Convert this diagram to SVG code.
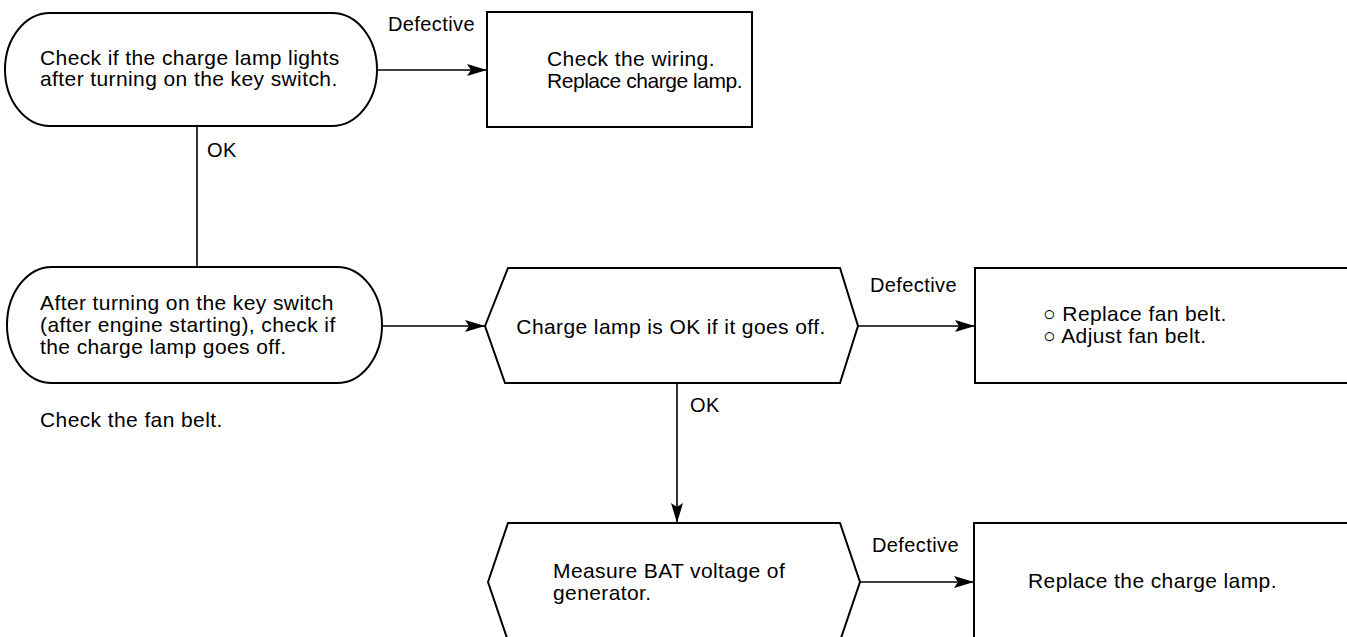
<svg xmlns="http://www.w3.org/2000/svg" width="1347" height="637" viewBox="0 0 1347 637">
<style>
.shape{fill:#fff;stroke:#000;stroke-width:2}
.conn{fill:none;stroke:#000;stroke-width:1.6}
text{font-family:"Liberation Sans",Arial,Helvetica,sans-serif;font-size:21px;letter-spacing:0.4px;fill:#000}
.lbl{font-size:20px}
.bul{font-size:21px;letter-spacing:0}
</style>
<defs>
<marker id="arr" viewBox="0 0 20 12" refX="20" refY="6" markerWidth="20" markerHeight="12" markerUnits="userSpaceOnUse" orient="auto">
<path d="M0,0 L20,6 L0,12 L4,6 Z" fill="#000"/>
</marker>
</defs>
<rect width="1347" height="637" fill="#fff"/>
<g id="connectors">
<line class="conn" x1="377" y1="70" x2="487" y2="70" marker-end="url(#arr)"/>
<line class="conn" x1="197" y1="126" x2="197" y2="268"/>
<line class="conn" x1="382" y1="326" x2="485" y2="326" marker-end="url(#arr)"/>
<line class="conn" x1="858" y1="326" x2="975" y2="326" marker-end="url(#arr)"/>
<line class="conn" x1="677" y1="383" x2="677" y2="523" marker-end="url(#arr)"/>
<line class="conn" x1="860" y1="582" x2="974" y2="582" marker-end="url(#arr)"/>
<text class="lbl" x="388" y="31">Defective</text>
<text class="lbl" x="207" y="157">OK</text>
<text class="lbl" x="870" y="292">Defective</text>
<text class="lbl" x="690" y="412">OK</text>
<text class="lbl" x="872" y="552">Defective</text>
</g>
<g id="n1">
<path class="shape" d="M50,13 L332,13 A45,56.5 0 0 1 332,126 L50,126 A45,56.5 0 0 1 50,13 Z"/>
<text x="40" y="65">Check if the charge lamp lights</text>
<text x="40" y="86">after turning on the key switch.</text>
</g>
<g id="n2">
<rect class="shape" x="487" y="12" width="265" height="115"/>
<text x="547" y="66">Check the wiring.</text>
<text x="547" y="88" textLength="196" lengthAdjust="spacing">Replace charge lamp.</text>
</g>
<g id="n3">
<path class="shape" d="M52,267 L337,267 A45,58 0 0 1 337,383 L52,383 A45,58 0 0 1 52,267 Z"/>
<text x="40" y="310">After turning on the key switch</text>
<text x="40" y="332">(after engine starting), check if</text>
<text x="40" y="354">the charge lamp goes off.</text>
</g>
<g id="n4">
<text x="40" y="427">Check the fan belt.</text>
</g>
<g id="n5">
<path class="shape" d="M485,326 L508,268 L840,268 L858,326 L840,383 L505,383 Z"/>
<text x="671" y="334" text-anchor="middle">Charge lamp is OK if it goes off.</text>
</g>
<g id="n6">
<rect class="shape" x="975" y="268" width="390" height="115"/>
<text x="1043" y="321">○ Replace fan belt.</text>
<text x="1043" y="343">○ Adjust fan belt.</text>
</g>
<g id="n7">
<path class="shape" d="M488,582 L508,523 L840,523 L860,582 L840,641 L508,641 Z"/>
<text x="553" y="578">Measure BAT voltage of</text>
<text x="553" y="600">generator.</text>
</g>
<g id="n8">
<rect class="shape" x="974" y="523" width="390" height="130"/>
<text x="1028" y="588">Replace the charge lamp.</text>
</g>
</svg>
